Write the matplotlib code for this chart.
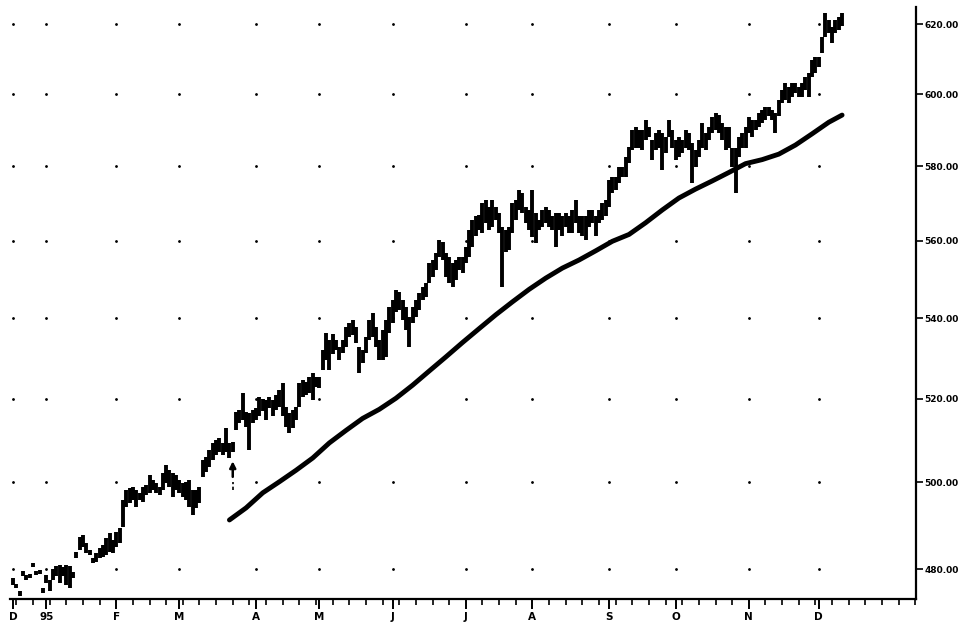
import numpy as np
import matplotlib.pyplot as plt
from matplotlib.ticker import FixedLocator, NullLocator, FormatStrFormatter

# daily highs / lows, trading days from mid Dec 1994 to early Dec 1995
highs = [
    477.9, 476.6, 475.1, 479.6, 478.6, 478.9, 481.4, 479.6, 479.8, 475.8,
    478.6, 477.5, 480.0, 480.7, 480.9, 480.4, 480.9, 480.7, 479.3, 483.8,
    487.3, 487.7, 485.9, 484.3, 482.5, 483.6, 484.8, 485.5, 487.1, 488.2,
    486.6, 488.4, 489.4, 495.8, 498.2, 498.6, 498.9, 498.2, 497.4, 498.9,
    499.3, 501.7, 500.5, 499.8, 498.9, 502.2, 504.0, 502.9, 502.2, 501.7,
    500.5, 499.8, 500.1, 500.5, 498.2, 498.2, 498.9, 505.2, 505.9, 507.6,
    509.3, 510.0, 510.5, 509.3, 512.9, 509.3, 509.5, 516.7, 517.2, 521.4,
    516.7, 516.5, 517.2, 517.7, 520.3, 519.9, 519.7, 520.3, 519.7, 520.9,
    522.1, 523.8, 518.0, 516.5, 517.2, 518.0, 523.8, 524.6, 524.1, 525.3,
    526.3, 525.3, 525.3, 532.0, 536.2, 534.5, 536.0, 534.5, 532.8, 534.5,
    537.8, 538.8, 539.6, 537.8, 532.8, 532.0, 535.3, 539.6, 541.3, 537.8,
    534.5, 537.0, 539.6, 542.9, 544.7, 547.2, 546.7, 544.7, 542.9, 540.3,
    542.9, 544.7, 546.5, 548.0, 549.0, 554.2, 555.0, 556.8, 560.2, 559.7,
    556.8, 555.8, 554.2, 555.0, 555.8, 555.8, 558.4, 562.9, 565.5, 566.5,
    566.8, 570.1, 570.9, 569.0, 570.9, 569.0, 567.3, 563.7, 562.9, 563.7,
    570.1, 570.9, 573.5, 572.7, 569.0, 568.2, 573.5, 567.3, 565.5, 568.2,
    569.0, 568.2, 566.5, 567.3, 567.3, 566.5, 567.3, 566.5, 568.2, 570.9,
    566.5, 566.5, 566.5, 568.2, 568.2, 566.5, 568.2, 570.1, 570.9, 576.2,
    577.0, 577.0, 579.8, 579.8, 582.5, 585.3, 589.9, 590.7, 589.9, 589.9,
    592.7, 590.7, 587.2, 589.0, 589.9, 589.0, 588.0, 592.7, 589.9, 587.2,
    588.0, 587.2, 589.9, 589.0, 586.3, 584.4, 587.2, 591.8, 589.0, 590.7,
    593.6, 594.6, 594.1, 591.8, 590.7, 590.7, 585.0, 585.0, 588.0, 589.0,
    590.7, 593.6, 592.7, 592.7, 594.6, 595.5, 596.3, 596.3, 595.5, 594.6,
    598.3, 601.1, 603.1, 601.9, 603.1, 603.1, 601.9, 603.1, 604.8, 606.0,
    609.6, 610.5, 610.5, 616.2, 623.3, 621.2, 619.1, 621.2, 622.1, 623.3,
]
lows = [
    476.4, 475.8, 474.0, 478.4, 477.5, 478.0, 480.5, 478.6, 478.9, 474.6,
    476.9, 475.1, 477.5, 478.4, 476.9, 478.4, 476.4, 475.8, 478.0, 482.5,
    484.3, 484.9, 483.6, 483.2, 481.4, 481.6, 482.5, 482.7, 483.2, 483.8,
    483.6, 484.9, 485.9, 489.6, 494.2, 495.1, 495.8, 494.2, 495.8, 495.3,
    497.0, 497.4, 498.2, 497.4, 497.0, 498.2, 499.8, 498.9, 496.5, 498.2,
    497.4, 496.5, 495.8, 494.2, 492.3, 494.0, 495.1, 501.2, 502.4, 503.6,
    505.2, 506.4, 507.1, 506.4, 507.1, 505.6, 507.1, 512.4, 514.1, 514.8,
    513.1, 507.6, 514.1, 514.8, 515.7, 517.0, 514.8, 517.7, 515.7, 517.2,
    518.0, 515.7, 513.1, 511.7, 512.9, 514.8, 518.0, 520.4, 520.9, 521.4,
    519.7, 522.8, 522.6, 527.0, 529.5, 527.0, 531.0, 532.0, 529.5, 531.3,
    532.8, 535.2, 535.8, 533.8, 526.3, 528.8, 531.3, 534.5, 535.3, 532.8,
    529.5, 529.5, 530.3, 536.3, 538.8, 541.6, 542.1, 539.6, 537.0, 532.8,
    538.8, 540.3, 542.1, 544.7, 545.5, 549.0, 550.6, 552.4, 555.8, 555.0,
    550.6, 549.0, 548.0, 549.8, 552.4, 551.6, 554.2, 555.8, 558.4, 561.2,
    562.9, 562.1, 564.7, 562.9, 563.7, 565.5, 562.1, 548.0, 557.0, 557.6,
    562.1, 565.5, 568.2, 567.3, 564.7, 562.9, 561.0, 559.5, 562.9, 563.7,
    564.7, 563.7, 562.9, 558.4, 562.9, 561.2, 563.7, 562.1, 562.1, 564.7,
    562.1, 561.2, 560.2, 563.7, 564.7, 561.2, 564.7, 565.5, 566.5, 569.0,
    572.7, 573.5, 575.4, 577.0, 577.0, 580.8, 584.4, 585.0, 585.0, 584.4,
    587.2, 588.0, 581.7, 584.4, 585.0, 578.9, 583.6, 588.0, 585.0, 581.7,
    582.5, 583.6, 585.0, 584.4, 575.4, 579.8, 582.5, 585.0, 584.4, 587.2,
    589.0, 589.9, 589.0, 587.2, 584.4, 585.0, 579.8, 572.7, 582.5, 585.0,
    585.0, 589.0, 588.0, 589.9, 590.7, 591.8, 592.7, 593.8, 592.7, 589.0,
    593.8, 597.4, 598.3, 597.4, 599.1, 600.2, 599.1, 599.1, 601.1, 599.1,
    604.8, 606.0, 607.6, 611.6, 616.2, 617.4, 614.5, 617.4, 618.3, 619.4,
]

# moving average, read about once a week
ma_days = [65, 70, 75, 80, 85, 90, 95, 100, 105, 110, 115, 120, 125, 130,
           135, 140, 145, 150, 155, 160, 165, 170, 175, 180, 185, 190, 195,
           200, 205, 210, 215, 220, 225, 230, 235, 240, 245, 249]
ma_values = [491.2, 494.0, 497.5, 500.1, 502.8, 505.7, 509.3, 512.3, 515.2,
             517.4, 520.1, 523.3, 526.8, 530.3, 533.9, 537.4, 540.9, 544.2,
             547.4, 550.3, 552.9, 555.0, 557.4, 559.9, 561.7, 564.8, 568.2,
             571.4, 573.8, 576.0, 578.3, 580.7, 581.8, 583.3, 585.8, 588.9,
             592.1, 594.1]

# trading days per month on the axis: Dec 94 (part), Jan ... Nov
month_days = [10, 21, 19, 23, 19, 22, 22, 20, 23, 20, 22, 21]
month_labels = ['D', '95', 'F', 'M', 'A', 'M', 'J', 'J', 'A', 'S', 'O', 'N', 'D']
price_ticks = [480, 500, 520, 540, 560, 580, 600, 620]
arrow_day = 66

month_starts = np.cumsum([0] + month_days)
days = np.arange(len(highs))

fig = plt.figure(figsize=(9.68, 6.24), dpi=100)
ax = fig.add_axes([10 / 968, 25 / 624, 906 / 968, 599 / 624])

# price bars
ax.vlines(days, lows, highs, color='black', linewidth=2.8)
# moving average
ax.plot(ma_days, ma_values, color='black', linewidth=3.5, solid_capstyle='round')

# dotted grid: one dot at each month / price crossing
gx, gy = np.meshgrid(month_starts, price_ticks)
ax.plot(gx.ravel(), gy.ravel(), ls='none', marker='o', ms=1.0, color='black')

# little arrow under the March bar
low_a = lows[arrow_day]
ax.annotate('', xy=(arrow_day, low_a - 1.5), xytext=(arrow_day, low_a - 6.5),
            arrowprops=dict(arrowstyle='-|>', color='black', lw=1.8,
                            mutation_scale=9))
ax.vlines(arrow_day, low_a - 9, low_a - 7, color='black', linewidth=1.2,
          linestyles=(0, (2, 1.5)))

ax.set_yscale('log')
ax.set_ylim(473.3, 627.1)
ax.set_xlim(-0.9, 271.2)

ax.yaxis.tick_right()
ax.yaxis.set_major_locator(FixedLocator(price_ticks))
ax.yaxis.set_minor_locator(NullLocator())
ax.yaxis.set_major_formatter(FormatStrFormatter('%.2f'))
ax.tick_params(axis='y', direction='out', length=5, width=1.2, pad=1,
               labelsize=6.5)

ax.set_xticks(month_starts)
ax.set_xticklabels(month_labels)
ax.set_xticks(np.arange(1, 272, 5), minor=True)
ax.tick_params(axis='x', which='major', direction='out', length=7, width=1.4,
               pad=2, labelsize=7.5)
ax.tick_params(axis='x', which='minor', direction='out', length=4, width=1.2)

for lab in ax.get_xticklabels() + ax.get_yticklabels():
    lab.set_fontweight('bold')

ax.spines['top'].set_visible(False)
ax.spines['left'].set_visible(False)
ax.spines['right'].set_linewidth(1.6)
ax.spines['bottom'].set_linewidth(1.6)
ax.spines['right'].set_bounds(473.3, 625.0)

fig.savefig('out.png', dpi=100)
